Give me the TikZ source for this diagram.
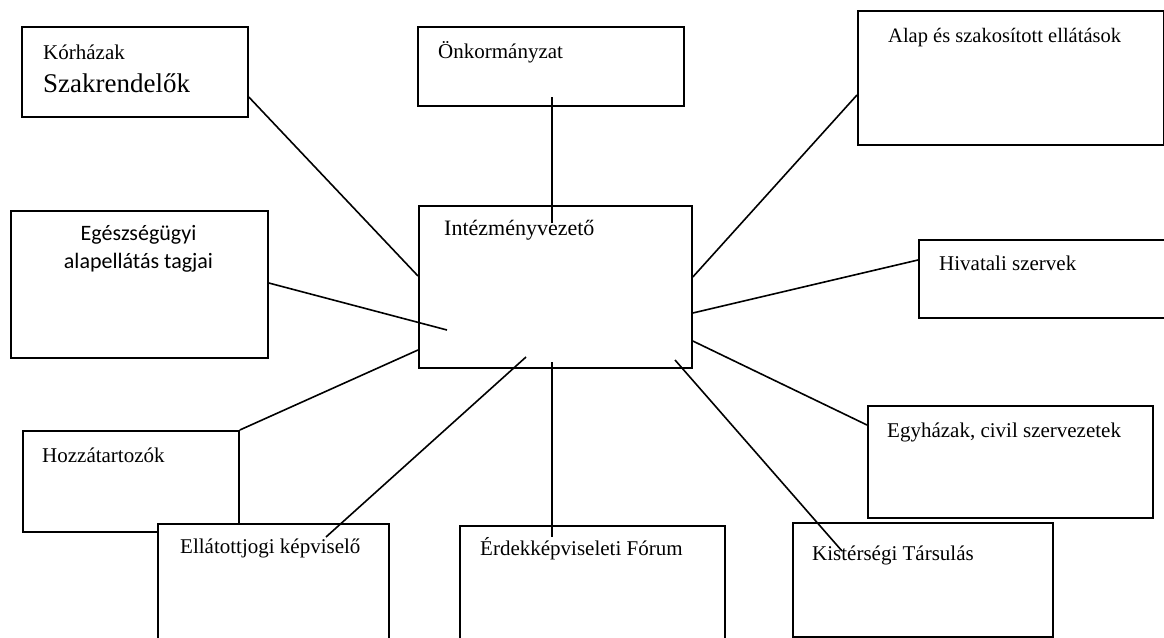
\documentclass[tikz,border=0pt]{standalone}
\usepackage{fontspec}
\setmainfont{Liberation Serif}
\newfontfamily\carlito{Carlito}
\usetikzlibrary{positioning}

\begin{document}
\begin{tikzpicture}[x=1pt, y=-1pt,
  box/.style={draw, line width=1.8pt, fill=white, anchor=north west, inner sep=0pt},
  txt/.style={anchor=base west, inner sep=0pt, font=\fontsize{21}{25}\selectfont},
  con/.style={line width=1.6pt}]
\useasboundingbox (0,0) rectangle (1164,637);
\clip (0,0) rectangle (1164,637);
% boxes
\node[box, minimum width=226pt, minimum height=90pt] (kh) at (21,26) {};
\node[box, minimum width=266pt, minimum height=79pt] (onk) at (417,26) {};
\node[box, minimum width=306pt, minimum height=134pt] (alap) at (857,10) {};
\node[box, minimum width=257pt, minimum height=147pt] (eg) at (10,210) {};
\node[box, minimum width=273pt, minimum height=162pt] (iv) at (418,205) {};
\node[box, minimum width=257pt, minimum height=78pt] (hiv) at (918,239) {};
\node[box, minimum width=285pt, minimum height=112pt] (egy) at (867,405) {};
\node[box, minimum width=216pt, minimum height=101pt] (hoz) at (22,430) {};
\node[box, minimum width=231pt, minimum height=140pt] (ej) at (157,523) {};
\node[box, minimum width=265pt, minimum height=140pt] (ef) at (459,525) {};
\node[box, minimum width=260pt, minimum height=114pt] (kt) at (792,522) {};
% texts
\node[txt] (kh-t1) at (43,59) {Kórházak};
\node[txt, font=\fontsize{27}{31}\selectfont] (kh-t2) at (43,92) {Szakrendelők};
\node[txt] (onk-t) at (438,58) {Önkormányzat};
\node[txt, font=\fontsize{20.5}{24}\selectfont] (alap-t) at (888,42) {Alap és szakosított ellátások};
\node[anchor=base, inner sep=0pt, align=center, font=\carlito\fontsize{22}{28}\selectfont] (eg-t) at (138.5,268) {Egészségügyi\\alapellátás tagjai};
\node[txt, font=\fontsize{22}{26}\selectfont] (iv-t) at (444,235) {Intézményvezető};
\node[txt] (hiv-t) at (939,270) {Hivatali szervek};
\node[txt] (egy-t) at (887,437) {Egyházak, civil szervezetek};
\node[txt] (hoz-t) at (42,462) {Hozzátartozók};
\node[txt] (ej-t) at (180,553) {Ellátottjogi képviselő};
\node[txt] (ef-t) at (480,555) {Érdekképviseleti Fórum};
\node[txt] (kt-t) at (812,560) {Kistérségi Társulás};
% free ends inside the boxes
\coordinate (onk-a) at (552,97);
\coordinate (iv-a) at (552,223);
\coordinate (iv-b) at (447,330);
\coordinate (iv-c) at (526,357);
\coordinate (iv-d) at (552,362);
\coordinate (iv-e) at (675,360);
\coordinate (ej-a) at (326,537);
\coordinate (ef-a) at (552,537);
\coordinate (kt-a) at (842,551);
% connectors
\draw[con] (kh.east |- 0,97) -- (iv.west |- 0,276);
\draw[con] (onk-a) -- (iv-a);
\draw[con] (alap.west |- 0,95) -- (iv.east |- 0,277);
\draw[con] (eg.east |- 0,283) -- (iv-b);
\draw[con] (hiv.west |- 0,260) -- (iv.east |- 0,313);
\draw[con] (hoz.north east) -- (iv.west |- 0,350);
\draw[con] (ej-a) -- (iv-c);
\draw[con] (iv-d) -- (ef-a);
\draw[con] (iv-e) -- (kt-a);
\draw[con] (iv.east |- 0,341) -- (egy.west |- 0,425);
\end{tikzpicture}
\end{document}
